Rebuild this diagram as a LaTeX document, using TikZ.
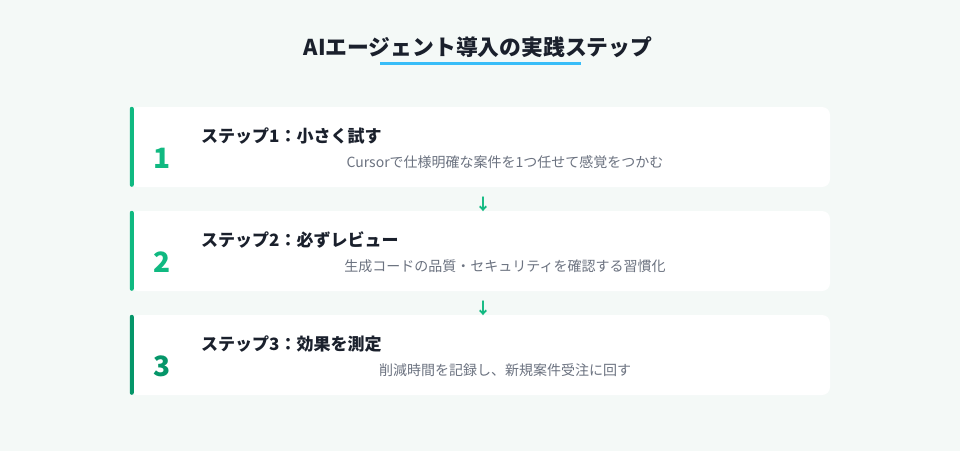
\documentclass[tikz,border=0pt]{standalone}
\usepackage{fontspec}
\setmainfont{Noto Sans CJK JP}
\definecolor{bgc}{RGB}{244,249,247}
\definecolor{titlec}{RGB}{26,32,44}
\definecolor{descc}{RGB}{107,114,128}
\definecolor{greenA}{RGB}{16,185,129}
\definecolor{greenB}{RGB}{5,150,105}
\definecolor{linec}{RGB}{56,189,248}
\tikzset{
  card/.style={fill=white, rounded corners=8pt, minimum width=700pt, minimum height=80pt, inner sep=0pt},
  stepnum/.style={font=\fontsize{28}{30}\selectfont\bfseries, inner sep=0pt},
  steptitle/.style={font=\fontsize{17}{20}\selectfont\bfseries, text=titlec, anchor=west, inner sep=0pt},
  stepdesc/.style={font=\fontsize{14}{16}\selectfont, text=descc, inner sep=0pt},
  downarrow/.style={font=\fontsize{16}{18}\selectfont\bfseries, text=greenA, inner sep=0pt},
}
\begin{document}
\begin{tikzpicture}[x=1pt,y=-1pt]
\fill[bgc] (0,0) rectangle (960,451);
\useasboundingbox (0,0) rectangle (960,451);
% title
\node[font=\fontsize{21.8}{24}\selectfont\bfseries, text=titlec, inner sep=0pt] (title) at (478,47) {AIエージェント導入の実践ステップ};
\coordinate (ulA) at (380,63.5);
\coordinate (ulB) at (581,63.5);
\draw[linec, line width=3pt] (ulA) -- (ulB);
% cards
\foreach \i/\y/\col in {1/147/greenA, 2/251/greenA, 3/355/greenB} {
  \node[card] (c\i) at (480,\y) {};
  \fill[\col, rounded corners=2pt] (c\i.north west) rectangle ++(4,80);
}
\node[stepnum, text=greenA] (n1) at (162,158) {1};
\node[stepnum, text=greenA] (n2) at (162,262) {2};
\node[stepnum, text=greenB] (n3) at (162,366) {3};
\node[steptitle] (t1) at (201,136) {ステップ1：小さく試す};
\node[steptitle] (t2) at (201,240) {ステップ2：必ずレビュー};
\node[steptitle] (t3) at (201,344) {ステップ3：効果を測定};
\node[stepdesc] (d1) at (505,162) {Cursorで仕様明確な案件を1つ任せて感覚をつかむ};
\node[stepdesc] (d2) at (505,266) {生成コードの品質・セキュリティを確認する習慣化};
\node[stepdesc] (d3) at (505,370) {削減時間を記録し、新規案件受注に回す};
% arrows between cards
\node[downarrow] (a1) at (483,204) {↓};
\node[downarrow] (a2) at (483,308) {↓};
\end{tikzpicture}
\end{document}
